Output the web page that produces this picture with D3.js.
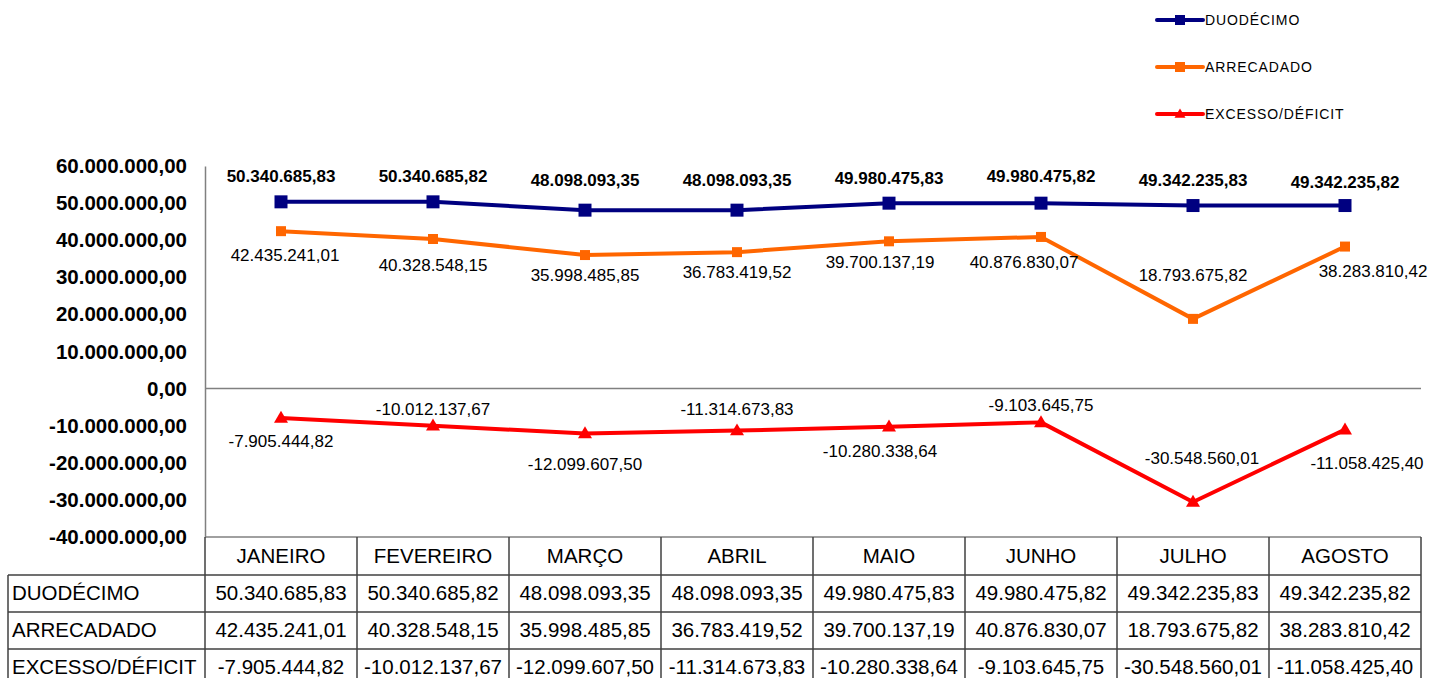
<!DOCTYPE html>
<html>
<head>
<meta charset="utf-8">
<script src="https://cdnjs.cloudflare.com/ajax/libs/d3/7.8.5/d3.min.js"></script>
<style>
  body { margin: 0; background: #fff; }
  svg { display: block; font-family: "Liberation Sans", Arial, sans-serif; }
</style>
</head>
<body>
<svg id="chart" width="1438" height="678"></svg>
<script>
// data
var months = ['JANEIRO', 'FEVEREIRO', 'MARÇO', 'ABRIL', 'MAIO', 'JUNHO', 'JULHO', 'AGOSTO']
var duodecimo = [50340685.83, 50340685.82, 48098093.35, 48098093.35, 49980475.83, 49980475.82, 49342235.83, 49342235.82]
var arrecadado = [42435241.01, 40328548.15, 35998485.85, 36783419.52, 39700137.19, 40876830.07, 18793675.82, 38283810.42]
var excesso = [-7905444.82, -10012137.67, -12099607.50, -11314673.83, -10280338.64, -9103645.75, -30548560.01, -11058425.40]
var seriesNames = ['DUODÉCIMO', 'ARRECADADO', 'EXCESSO/DÉFICIT']
var yTicks = [60000000, 50000000, 40000000, 30000000, 20000000, 10000000, 0, -10000000, -20000000, -30000000, -40000000]

// label nudges (pixels) so the value labels sit like the original
var labelDx = [
    [0, 0, 0, 0, 0, 0, 0, 0],
    [4, 0, 0, 0, -9, -17, 0, 28],
    [0, 0, 0, 0, -9, 0, 9, 22]
]
var labelDy = [
    [-26, -26, -30, -30, -25, -27, -25, -23],
    [24, 26, 20, 20, 21, 25, -44, 24],
    [23, -17, 31, -22, 24, -17, -44, 33]
]

var loc = d3.formatLocale({ decimal: ',', thousands: '.', grouping: [3], currency: ['', ''], minus: '-' })
var fmt = loc.format(',.2f')

var svg = d3.select('#chart')
var plotLeft = 205, plotRight = 1421, plotTop = 166, plotBottom = 537

var x = d3.scaleBand().domain(months).range([plotLeft, plotRight])
var y = d3.scaleLinear().domain([-40000000, 60000000]).range([plotBottom, plotTop])

var series = [
    { name: seriesNames[0], values: duodecimo, color: '#000080', marker: 'square', size: 13, weight: 'bold' },
    { name: seriesNames[1], values: arrecadado, color: '#FF6600', marker: 'square', size: 10, weight: 'normal' },
    { name: seriesNames[2], values: excesso, color: '#FF0000', marker: 'triangle', size: 14, weight: 'normal' }
]

// y axis
var yAxis = svg.append('g').attr('transform', 'translate(' + plotLeft + ',0)')
    .call(d3.axisLeft(y).tickValues(yTicks).tickFormat(fmt).tickSize(0).tickPadding(18))
yAxis.select('.domain').attr('stroke', '#808080').attr('stroke-width', 1.5)
yAxis.selectAll('text').attr('font-size', 20.5).attr('font-weight', 'bold').attr('fill', '#000')
    .attr('font-family', '"Liberation Sans", Arial, sans-serif')

// zero line
svg.append('line')
    .attr('x1', plotLeft).attr('x2', plotRight)
    .attr('y1', y(0)).attr('y2', y(0))
    .attr('stroke', '#808080').attr('stroke-width', 1.5)

// lines
var line = d3.line()
    .x(function(d, i) { return x(months[i]) + x.bandwidth() / 2 })
    .y(function(d) { return y(d) })

function markerPath(type, s) {
    if (type === 'square') return d3.symbol().type(d3.symbolSquare).size(s * s)()
    var h = s * 0.85
    return 'M0,' + (-h * 0.6) + 'L' + (s / 2) + ',' + (h * 0.4) + 'L' + (-s / 2) + ',' + (h * 0.4) + 'Z'
}

series.forEach(function(s, k) {
    svg.append('path')
        .datum(s.values)
        .attr('d', line)
        .attr('fill', 'none')
        .attr('stroke', s.color)
        .attr('stroke-width', 4)
        .attr('stroke-linejoin', 'round')

    svg.selectAll('.mk' + k).data(s.values).enter()
        .append('path')
        .attr('class', 'mk' + k)
        .attr('d', markerPath(s.marker, s.size))
        .attr('fill', s.color)
        .attr('transform', function(d, i) {
            return 'translate(' + (x(months[i]) + x.bandwidth() / 2) + ',' + y(d) + ')'
        })

    svg.selectAll('.lb' + k).data(s.values).enter()
        .append('text')
        .attr('class', 'lb' + k)
        .attr('x', function(d, i) { return x(months[i]) + x.bandwidth() / 2 + labelDx[k][i] })
        .attr('y', function(d, i) { return y(d) + labelDy[k][i] })
        .attr('dy', '0.35em')
        .attr('text-anchor', 'middle')
        .attr('font-size', 17)
        .attr('font-weight', s.weight)
        .attr('fill', '#000')
        .text(function(d) { return fmt(d) })
})

// data table
var headTop = 537, rowTop = 575, rowH = 37, tableLeft = 8
var tbl = svg.append('g')
var lineColor = '#404040'

// header row (month names)
tbl.append('line').attr('x1', plotLeft).attr('x2', plotRight).attr('y1', headTop).attr('y2', headTop)
    .attr('stroke', '#808080').attr('stroke-width', 1.5)
months.forEach(function(m) {
    tbl.append('text')
        .attr('x', x(m) + x.bandwidth() / 2)
        .attr('y', headTop + (rowTop - headTop) / 2)
        .attr('dy', '0.35em')
        .attr('text-anchor', 'middle')
        .attr('font-size', 20.5)
        .text(m)
})
// column dividers
d3.range(months.length + 1).forEach(function(i) {
    var xx = plotLeft + i * x.bandwidth()
    tbl.append('line').attr('x1', xx).attr('x2', xx).attr('y1', headTop).attr('y2', 678)
        .attr('stroke', lineColor).attr('stroke-width', 1.5)
})
// row lines
d3.range(series.length).forEach(function(r) {
    var yy = rowTop + r * rowH
    tbl.append('line').attr('x1', tableLeft).attr('x2', plotRight).attr('y1', yy).attr('y2', yy)
        .attr('stroke', lineColor).attr('stroke-width', 1.5)
})
tbl.append('line').attr('x1', tableLeft).attr('x2', tableLeft).attr('y1', rowTop).attr('y2', 678)
    .attr('stroke', lineColor).attr('stroke-width', 1.5)

series.forEach(function(s, r) {
    var cy = rowTop + r * rowH + rowH / 2 - 1
    tbl.append('text')
        .attr('x', tableLeft + 4).attr('y', cy).attr('dy', '0.35em')
        .attr('font-size', 20.5)
        .text(s.name)
    s.values.forEach(function(v, i) {
        tbl.append('text')
            .attr('x', x(months[i]) + x.bandwidth() / 2)
            .attr('y', cy).attr('dy', '0.35em')
            .attr('text-anchor', 'middle')
            .attr('font-size', 20.5)
            .text(fmt(v))
    })
})

// legend
var leg = svg.append('g')
series.forEach(function(s, k) {
    var ly = 20 + k * 47
    leg.append('line').attr('x1', 1157).attr('x2', 1203).attr('y1', ly).attr('y2', ly)
        .attr('stroke', s.color).attr('stroke-width', 4).attr('stroke-linecap', 'round')
    leg.append('path').attr('d', markerPath(s.marker, s.marker === 'square' ? 10 : 11))
        .attr('fill', s.color).attr('transform', 'translate(1180,' + ly + ')')
    leg.append('text').attr('x', 1205).attr('y', ly).attr('dy', '0.35em')
        .attr('font-size', 14).attr('letter-spacing', 0.9)
        .text(s.name)
})
</script>
</body>
</html>
